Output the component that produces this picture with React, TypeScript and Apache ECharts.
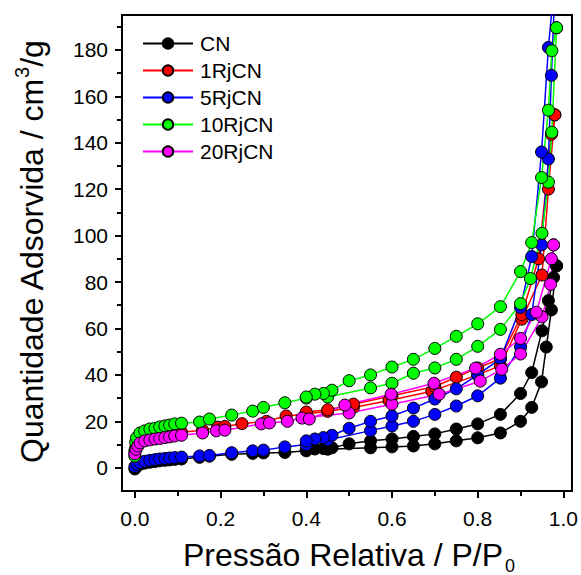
import React, { useEffect, useRef } from 'react';
import * as echarts from 'echarts';

const FONT = '"Liberation Sans", Arial, Helvetica, sans-serif';

const seriesNames = ['CN', '1RjCN', '5RjCN', '10RjCN', '20RjCN'];
const seriesColors = ['#000000', '#ff0000', '#0000ff', '#00ff00', '#ff00ff'];

const xMajorTicks = [0, 0.2, 0.4, 0.6, 0.8, 1.0];
const xMinorTicks = [0.1, 0.3, 0.5, 0.7, 0.9];
const yMajorTicks = [0, 20, 40, 60, 80, 100, 120, 140, 160, 180];
const yMinorTicks = [10, 30, 50, 70, 90, 110, 130, 150, 170, 190];

// [P/P0, volume] — adsorption (ads) and desorption (des) branches
const cnAds = [[0, -0.5], [0.005, 0.8], [0.012, 1.5], [0.023, 2], [0.035, 2.4], [0.047, 2.7], [0.058, 3], [0.07, 3.2], [0.081, 3.4], [0.093, 3.6], [0.109, 3.8], [0.151, 4.5], [0.174, 5], [0.226, 5.8], [0.275, 6.2], [0.3, 6.4], [0.35, 6.6], [0.4, 7.3], [0.45, 8], [0.55, 8.6], [0.6, 9], [0.65, 9.4], [0.7, 10.3], [0.75, 11.6], [0.8, 12.9], [0.853, 15], [0.9, 20], [0.926, 26], [0.949, 37], [0.96, 52], [0.972, 68], [0.984, 87]];
const cnDes = [[0.984, 87], [0.977, 82], [0.965, 72], [0.95, 59], [0.926, 41], [0.9, 32], [0.853, 23], [0.8, 18.9], [0.75, 16.7], [0.7, 14.6], [0.65, 13.5], [0.6, 12.4], [0.55, 11.6], [0.5, 10.3], [0.46, 8.6], [0.44, 8.3], [0.42, 8.1], [0.4, 8]];

const rj1Ads = [[0, 7], [0.003, 9.5], [0.007, 11], [0.012, 12], [0.023, 12.8], [0.035, 13.3], [0.047, 13.7], [0.058, 14], [0.07, 14.4], [0.081, 14.7], [0.093, 15], [0.109, 15.3], [0.158, 16.2], [0.193, 17.5], [0.21, 17.8], [0.25, 19], [0.307, 20], [0.353, 22.3], [0.4, 23.2], [0.45, 24.3], [0.51, 26], [0.593, 29], [0.693, 33], [0.8, 40], [0.853, 44], [0.903, 64], [0.95, 83], [0.965, 120], [0.98, 152]];
const rj1Des = [[0.98, 152], [0.972, 143.6], [0.942, 90], [0.903, 66], [0.853, 47], [0.8, 43], [0.75, 39], [0.7, 35], [0.6, 31], [0.51, 27.4], [0.45, 25], [0.4, 24]];

const rj5Ads = [[0, 0.5], [0.005, 1.5], [0.012, 2.2], [0.023, 2.8], [0.035, 3.2], [0.047, 3.5], [0.058, 3.8], [0.07, 4], [0.081, 4.2], [0.093, 4.4], [0.109, 4.6], [0.151, 5.1], [0.174, 5.3], [0.226, 6.5], [0.275, 7.3], [0.3, 7.6], [0.35, 9], [0.4, 10], [0.45, 12], [0.55, 16], [0.6, 18], [0.65, 20], [0.7, 23], [0.75, 26.6], [0.8, 31], [0.853, 38.6], [0.9, 52], [0.926, 66], [0.949, 96], [0.965, 133], [0.972, 169], [0.982, 215]];
const rj5Des = [[0.982, 215], [0.965, 181], [0.949, 136], [0.926, 91], [0.9, 69], [0.853, 47], [0.8, 40], [0.75, 34], [0.7, 29.6], [0.65, 25.7], [0.6, 22.3], [0.55, 20], [0.5, 17], [0.46, 14], [0.44, 13], [0.42, 12.4], [0.4, 11.6]];

const rj10Ads = [[0, 5], [0.001, 8], [0.002, 11], [0.004, 13], [0.012, 15], [0.023, 15.9], [0.035, 16.7], [0.047, 17], [0.058, 17.6], [0.07, 18], [0.081, 18.4], [0.093, 18.9], [0.109, 19.2], [0.151, 19.7], [0.174, 21], [0.226, 22.7], [0.275, 24.4], [0.3, 26], [0.35, 28], [0.4, 30], [0.45, 30.5], [0.55, 34.4], [0.6, 36.4], [0.65, 40.7], [0.7, 43], [0.75, 46.7], [0.8, 52.3], [0.853, 59.6], [0.9, 70.7], [0.923, 81.5], [0.95, 101], [0.965, 123], [0.973, 144.5], [0.984, 189.5]];
const rj10Des = [[0.984, 189.5], [0.973, 179.6], [0.965, 154], [0.949, 125], [0.926, 97], [0.9, 84.5], [0.853, 69.4], [0.8, 62], [0.75, 56.6], [0.7, 51.4], [0.65, 46.7], [0.6, 43.4], [0.55, 40], [0.5, 37.5], [0.46, 33.4], [0.44, 32], [0.42, 31.7], [0.4, 30.5]];

const rj20Ads = [[0, 6], [0.003, 8], [0.007, 9.4], [0.012, 10.7], [0.023, 11.6], [0.035, 12], [0.047, 12.4], [0.058, 12.6], [0.07, 13], [0.081, 13.3], [0.093, 13.7], [0.109, 14], [0.158, 15], [0.19, 15.9], [0.21, 16.2], [0.295, 18.9], [0.314, 19.3], [0.356, 20], [0.39, 21.4], [0.5, 23.6], [0.6, 27.4], [0.71, 31.7], [0.806, 37.3], [0.856, 42.4], [0.9, 49], [0.95, 65], [0.97, 79], [0.977, 96]];
const rj20Des = [[0.977, 96], [0.972, 90], [0.937, 67], [0.9, 55.7], [0.853, 48.9], [0.795, 42.9], [0.698, 36.4], [0.598, 31.7], [0.49, 27], [0.407, 21]];

const branches = [
  [cnAds, cnDes],
  [rj1Ads, rj1Des],
  [rj5Ads, rj5Des],
  [rj10Ads, rj10Des],
  [rj20Ads, rj20Des],
];

export default function App() {
  const ref = useRef<HTMLDivElement>(null);

  useEffect(() => {
    if (!ref.current) return;
    const chart = echarts.init(ref.current, undefined, { renderer: 'svg' });

    const series: any[] = [];
    seriesNames.forEach((name, i) => {
      branches[i].forEach((data) => {
        series.push({
          type: 'line',
          name,
          data,
          xAxisIndex: 0,
          yAxisIndex: 0,
          symbol: 'circle',
          symbolSize: 12,
          showSymbol: true,
          clip: true,
          lineStyle: { color: seriesColors[i], width: 1.5 },
          itemStyle: { color: seriesColors[i], borderColor: '#000', borderWidth: 1 },
          emphasis: { disabled: true },
        });
      });
    });

    const axisCommonX = { type: 'value', min: -0.03, max: 1.02, position: 'bottom', splitLine: { show: false } };
    const axisCommonY = { type: 'value', min: -10, max: 195, position: 'left', splitLine: { show: false } };

    chart.setOption({
      animation: false,
      backgroundColor: '#ffffff',
      grid: { left: 122, right: 8, top: 15, bottom: 84, show: true, borderColor: '#000', borderWidth: 2, containLabel: false },
      xAxis: [
        {
          ...axisCommonX,
          axisLine: { show: true, onZero: false, lineStyle: { color: '#000', width: 2 } },
          axisTick: { show: true, customValues: xMajorTicks, length: 7, lineStyle: { color: '#000', width: 2 } },
          axisLabel: { customValues: xMajorTicks, formatter: (v: number) => v.toFixed(1), fontSize: 21, fontFamily: FONT, color: '#000', margin: 17 },
        },
        {
          ...axisCommonX,
          axisLine: { show: false, onZero: false },
          axisTick: { show: true, customValues: xMinorTicks, length: 5, lineStyle: { color: '#000', width: 2 } },
          axisLabel: { show: false },
        },
      ],
      yAxis: [
        {
          ...axisCommonY,
          axisLine: { show: true, onZero: false, lineStyle: { color: '#000', width: 2 } },
          axisTick: { show: true, customValues: yMajorTicks, length: 7, lineStyle: { color: '#000', width: 2 } },
          axisLabel: { customValues: yMajorTicks, fontSize: 21, fontFamily: FONT, color: '#000', margin: 14 },
        },
        {
          ...axisCommonY,
          axisLine: { show: false, onZero: false },
          axisTick: { show: true, customValues: yMinorTicks, length: 5, lineStyle: { color: '#000', width: 2 } },
          axisLabel: { show: false },
        },
      ],
      legend: {
        data: seriesNames,
        orient: 'vertical',
        left: 137,
        top: 28,
        itemWidth: 50,
        itemHeight: 13,
        itemGap: 6,
        textStyle: { fontSize: 21, fontFamily: FONT, color: '#000', padding: [0, 0, 0, 2] },
        selectedMode: false,
      },
      graphic: [
        {
          type: 'text',
          x: 32,
          y: 252,
          rotation: Math.PI / 2,
          style: {
            text: '{a|Quantidade Adsorvida / cm}{s|3}{a|/g}',
            align: 'center',
            verticalAlign: 'middle',
            rich: {
              a: { fontSize: 32, fontFamily: FONT, fill: '#000', lineHeight: 40 },
              s: { fontSize: 20, fontFamily: FONT, fill: '#000', lineHeight: 26, verticalAlign: 'top' },
            },
          },
        },
        {
          type: 'text',
          x: 343,
          y: 555,
          style: {
            text: 'Pressão Relativa / P/P',
            align: 'center',
            verticalAlign: 'middle',
            fontSize: 32,
            fontFamily: FONT,
            fill: '#000',
          },
        },
        {
          type: 'text',
          x: 505,
          y: 566,
          style: {
            text: '0',
            align: 'left',
            verticalAlign: 'middle',
            fontSize: 18,
            fontFamily: FONT,
            fill: '#000',
          },
        },
      ],
      series,
    });

    return () => chart.dispose();
  }, []);

  return <div ref={ref} style={{ position: 'fixed', left: 0, top: 0, width: 581, height: 575 }} />;
}
